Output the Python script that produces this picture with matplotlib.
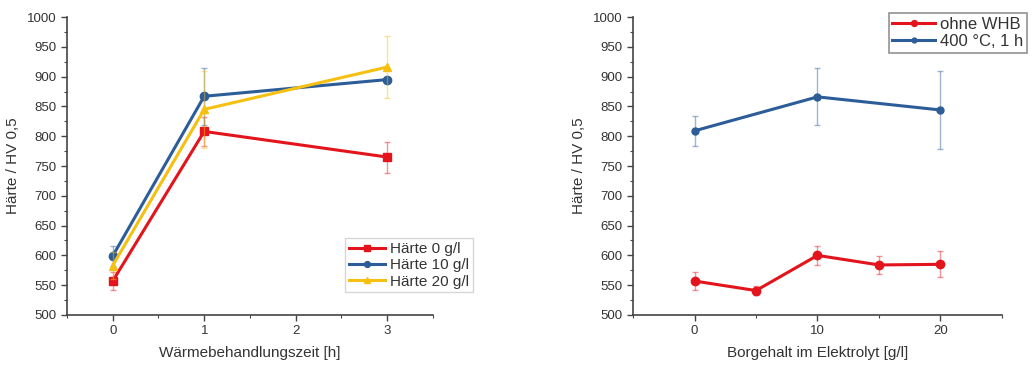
import matplotlib.pyplot as plt
import numpy as np
from matplotlib.ticker import MultipleLocator

plt.rcParams['font.family'] = ['Liberation Sans', 'DejaVu Sans']

# Linkes Diagramm: Härte über Wärmebehandlungszeit
zeit = [0, 1, 3]
haerte_0 = [557, 808, 765]
haerte_0_err = [15, 24, 26]
haerte_10 = [599, 867, 895]
haerte_10_err = [16, 48, 5]
haerte_20 = [583, 845, 916]
haerte_20_err = [22, 65, 52]
labels_links = ['Härte 0 g/l', 'Härte 10 g/l', 'Härte 20 g/l']

# Rechtes Diagramm: Härte über Borgehalt
borgehalt_ohne = [0, 5, 10, 15, 20]
ohne_whb = [557, 541, 600, 584, 585]
ohne_whb_err = [15, 8, 16, 15, 22]
borgehalt_whb = [0, 10, 20]
whb_400 = [809, 866, 844]
whb_400_err = [25, 48, 65]
labels_rechts = ['ohne WHB', '400 °C, 1 h']

rot = '#e3141c'
blau = '#2c5d98'
gelb = '#f5c012'
text_farbe = '#333333'

fig = plt.figure(figsize=(10.35, 3.65), dpi=100)
ax1 = fig.add_axes([0.0647, 0.137, 0.3536, 0.8164])
ax2 = fig.add_axes([0.6116, 0.137, 0.3565, 0.8164])


def style_axes(ax):
    ax.spines['top'].set_visible(False)
    ax.spines['right'].set_visible(False)
    for s in ['left', 'bottom']:
        ax.spines[s].set_color('#444444')
        ax.spines[s].set_linewidth(1.2)
    ax.set_ylim(500, 1000)
    ax.yaxis.set_major_locator(MultipleLocator(50))
    ax.yaxis.set_minor_locator(MultipleLocator(25))
    ax.tick_params(which='major', direction='out', length=4, width=1,
                   colors='#444444', labelcolor=text_farbe, labelsize=9.5)
    ax.tick_params(which='minor', direction='out', length=2, width=0.8,
                   colors='#444444')
    ax.set_ylabel('Härte / HV 0,5', fontsize=11, color=text_farbe, labelpad=5)


def plot_series(ax, x, y, err, color, marker, ms, label):
    ax.errorbar(x, y, yerr=err, fmt='none', ecolor=color, elinewidth=1,
                capsize=2.5, capthick=1, alpha=0.45)
    ax.plot(x, y, color=color, lw=2.2, marker=marker, ms=ms, label=label)


style_axes(ax1)
plot_series(ax1, zeit, haerte_0, haerte_0_err, rot, 's', 6, labels_links[0])
plot_series(ax1, zeit, haerte_10, haerte_10_err, blau, 'o', 6, labels_links[1])
plot_series(ax1, zeit, haerte_20, haerte_20_err, gelb, '^', 6, labels_links[2])
ax1.set_xlim(-0.5, 3.5)
ax1.xaxis.set_major_locator(MultipleLocator(1))
ax1.xaxis.set_minor_locator(MultipleLocator(0.5))
ax1.set_xlabel('Wärmebehandlungszeit [h]', fontsize=11, color=text_farbe, labelpad=6)
leg1 = ax1.legend(loc='lower right', bbox_to_anchor=(1.13, 0.05), fontsize=11,
                  frameon=True, fancybox=False, handlelength=2.4, borderpad=0.25,
                  labelspacing=0.15, handletextpad=0.3, markerscale=0.7)
leg1.get_frame().set_edgecolor('#cccccc')
for t in leg1.get_texts():
    t.set_color(text_farbe)

style_axes(ax2)
plot_series(ax2, borgehalt_ohne, ohne_whb, ohne_whb_err, rot, 'o', 6, labels_rechts[0])
plot_series(ax2, borgehalt_whb, whb_400, whb_400_err, blau, 'o', 5, labels_rechts[1])
ax2.set_xlim(-5, 25)
ax2.xaxis.set_major_locator(MultipleLocator(10))
ax2.xaxis.set_minor_locator(MultipleLocator(5))
ax2.set_xlabel('Borgehalt im Elektrolyt [g/l]', fontsize=11, color=text_farbe, labelpad=6)
leg2 = ax2.legend(loc='upper right', bbox_to_anchor=(1.09, 1.04), fontsize=12,
                  frameon=True, fancybox=False, handlelength=2.6, borderpad=0.2,
                  labelspacing=0.15, handletextpad=0.3, markerscale=0.7)
leg2.get_frame().set_edgecolor('#777777')
leg2.get_frame().set_linewidth(1.2)
for t in leg2.get_texts():
    t.set_color(text_farbe)

fig.savefig('out.png', dpi=100)
